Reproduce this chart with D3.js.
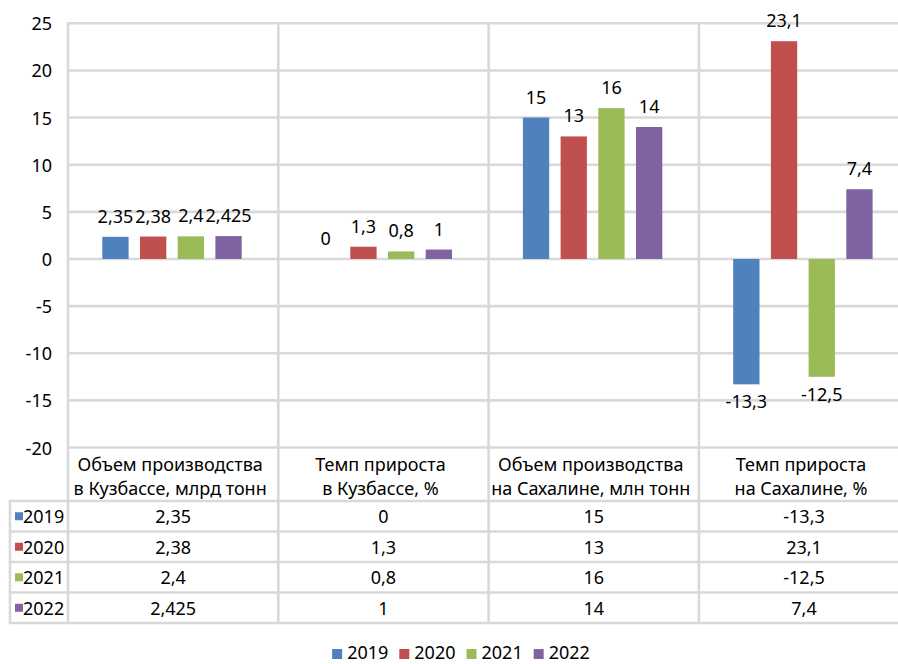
<!DOCTYPE html>
<html>
<head>
<meta charset="utf-8">
<script src="https://cdn.jsdelivr.net/npm/d3@7/dist/d3.min.js"></script>
<style>
  html, body { margin: 0; padding: 0; background: #fff; }
  svg { display: block; }
  text { font-family: "Noto Sans", "Open Sans", sans-serif; fill: #000; }
</style>
</head>
<body>
<svg id="chart" width="898" height="664"></svg>
<script>
// ---- data ----
const categories = [
  ["Объем производства", "в Кузбассе, млрд тонн"],
  ["Темп прироста", "в Кузбассе, %"],
  ["Объем производства", "на Сахалине, млн тонн"],
  ["Темп прироста", "на Сахалине, %"]
];
const years = ["2019", "2020", "2021", "2022"];
const values2019 = [2.35, 0, 15, -13.3];
const values2020 = [2.38, 1.3, 13, 23.1];
const values2021 = [2.4, 0.8, 16, -12.5];
const values2022 = [2.425, 1, 14, 7.4];
const seriesValues = [values2019, values2020, values2021, values2022];
const colors = ["#4f81bd", "#c0504d", "#9bbb59", "#8064a2"];
const yTicks = [-20, -15, -10, -5, 0, 5, 10, 15, 20, 25];

// ---- layout ----
const W = 898, H = 664;
const plotLeft = 68, catW = 210.3;
const plotTop = 23.3, plotBottom = 447.5;
const tableLeft = 10;
const headerBottom = 501;
const rowH = 30.5;
const gridColor = "#d9d9d9";
const fs = 18;

const svg = d3.select("#chart");
const fmt = v => String(v).replace(".", ",");
const catIdx = d3.range(categories.length);

const x = d3.scaleBand().domain(catIdx).range([plotLeft, plotLeft + catW * categories.length]).padding(0);
const xs = d3.scaleBand().domain(years).range([34.3, 34.3 + 139.4]).paddingInner(0.302).paddingOuter(0);
const y = d3.scaleLinear().domain([-20, 25]).range([plotBottom, plotTop]);

const tableBottom = headerBottom + rowH * years.length;

// horizontal gridlines
svg.append("g").selectAll("line").data(yTicks).join("line")
  .attr("x1", plotLeft).attr("x2", W)
  .attr("y1", d => y(d)).attr("y2", d => y(d))
  .attr("stroke", gridColor).attr("stroke-width", 2.6);

// vertical lines (category dividers, through table)
svg.append("g").selectAll("line").data(catIdx).join("line")
  .attr("x1", d => x(d)).attr("x2", d => x(d))
  .attr("y1", plotTop - 1.3).attr("y2", tableBottom + 1.3)
  .attr("stroke", gridColor).attr("stroke-width", 2.6);

// table horizontal lines
svg.append("g").selectAll("line").data(d3.range(years.length + 1)).join("line")
  .attr("x1", tableLeft - 1.3).attr("x2", W)
  .attr("y1", d => headerBottom + d * rowH).attr("y2", d => headerBottom + d * rowH)
  .attr("stroke", gridColor).attr("stroke-width", 2.6);
// table left border
svg.append("line")
  .attr("x1", tableLeft).attr("x2", tableLeft)
  .attr("y1", headerBottom).attr("y2", tableBottom)
  .attr("stroke", gridColor).attr("stroke-width", 2.6);

// y tick labels
svg.append("g").selectAll("text").data(yTicks).join("text")
  .attr("x", 52).attr("y", d => y(d))
  .attr("text-anchor", "end").attr("dominant-baseline", "central")
  .attr("font-size", fs)
  .text(d => d);

// bars
const bars = [];
years.forEach((yr, si) => {
  catIdx.forEach(ci => bars.push({ yr, si, ci, v: seriesValues[si][ci] }));
});
svg.append("g").selectAll("rect").data(bars).join("rect")
  .attr("x", d => x(d.ci) + xs(d.yr))
  .attr("width", xs.bandwidth())
  .attr("y", d => Math.min(y(d.v), y(0)))
  .attr("height", d => Math.abs(y(d.v) - y(0)))
  .attr("fill", d => colors[d.si]);

// value labels
svg.append("g").selectAll("text").data(bars).join("text")
  .attr("x", d => x(d.ci) + xs(d.yr) + xs.bandwidth() / 2)
  .attr("y", d => d.v >= 0 ? y(d.v) - 14 : y(d.v) + 24)
  .attr("text-anchor", "middle")
  .attr("font-size", fs)
  .text(d => fmt(d.v));

// header labels (category names)
const hdr = svg.append("g").selectAll("text").data(catIdx).join("text")
  .attr("text-anchor", "middle")
  .attr("font-size", fs);
hdr.each(function (ci) {
  const t = d3.select(this);
  const cx = x(ci) + x.bandwidth() / 2 - 3;
  categories[ci].forEach((line, li) => {
    t.append("tspan").attr("x", cx).attr("y", 471 + li * 24).text(line);
  });
});

// table rows
years.forEach((yr, si) => {
  const rowMid = headerBottom + si * rowH + rowH / 2;
  svg.append("rect")
    .attr("x", 15).attr("y", rowMid - 4)
    .attr("width", 8).attr("height", 8)
    .attr("fill", colors[si]);
  svg.append("text")
    .attr("x", 23).attr("y", rowMid + 7)
    .attr("font-size", fs)
    .text(yr);
  svg.append("g").selectAll("text").data(catIdx).join("text")
    .attr("x", ci => x(ci) + x.bandwidth() / 2)
    .attr("y", rowMid + 7)
    .attr("text-anchor", "middle")
    .attr("font-size", fs)
    .text(ci => fmt(seriesValues[si][ci]));
});

// bottom legend
const legend = svg.append("g");
let lx = 0;
years.forEach((yr, si) => {
  const g = legend.append("g").attr("transform", `translate(${lx},0)`);
  g.append("rect").attr("x", 0).attr("y", -10).attr("width", 10).attr("height", 10).attr("fill", colors[si]);
  const t = g.append("text").attr("x", 15).attr("y", 0).attr("font-size", fs).text(yr);
  lx += 15 + t.node().getComputedTextLength() + 11;
});
const totalW = lx - 11;
legend.attr("transform", `translate(${(W - totalW) / 2 + 12},659)`);
</script>
</body>
</html>
